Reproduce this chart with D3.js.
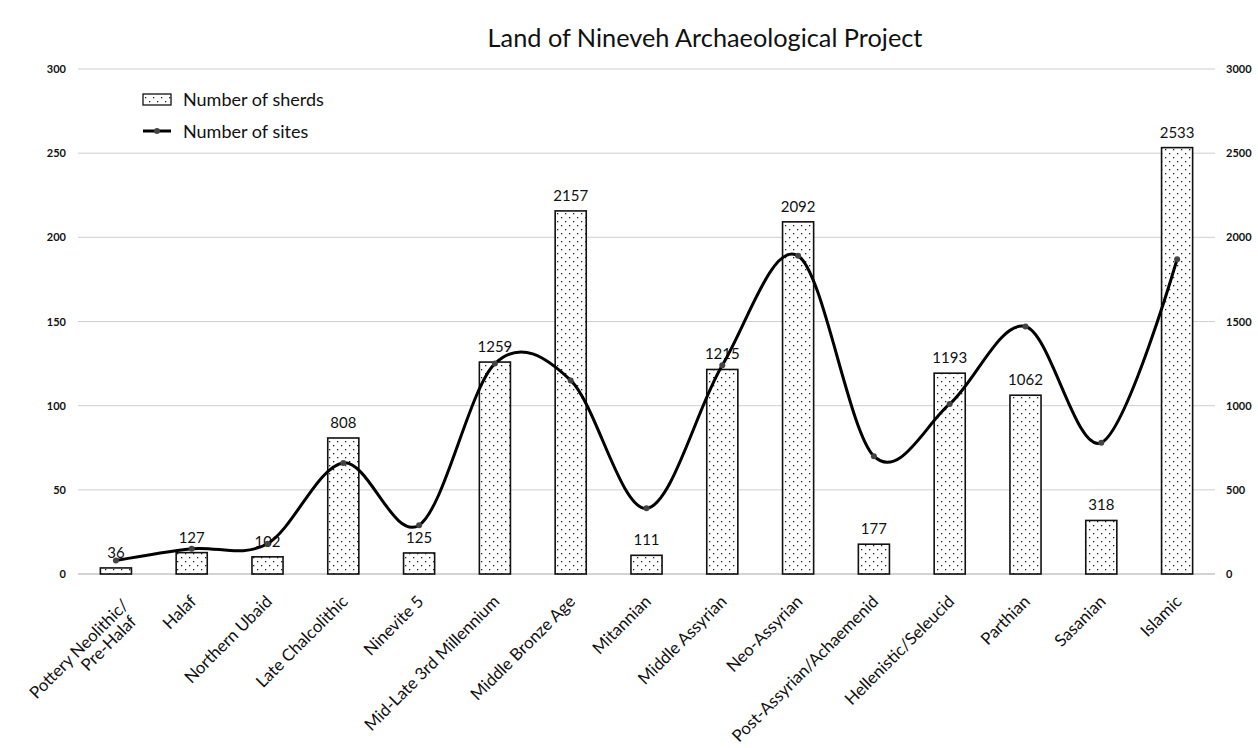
<!DOCTYPE html>
<html>
<head>
<meta charset="utf-8">
<script src="https://cdn.jsdelivr.net/npm/d3@7"></script>
<style>
  body { margin: 0; background: #fff; }
  svg { display: block; font-family: Lato, "Open Sans", sans-serif; }
  .grid-line { stroke: #cfcfcf; stroke-width: 1; }
  .tick-label { font-size: 11px; font-weight: bold; fill: #111; }
</style>
</head>
<body>
<svg width="1258" height="748"></svg>
<script>
// periods on the x axis
let periods = ["Pottery Neolithic/\nPre-Halaf", "Halaf", "Northern Ubaid", "Late Chalcolithic",
  "Ninevite 5", "Mid-Late 3rd Millennium", "Middle Bronze Age", "Mitannian", "Middle Assyrian",
  "Neo-Assyrian", "Post-Assyrian/Achaemenid", "Hellenistic/Seleucid", "Parthian", "Sasanian", "Islamic"];
// bars, right axis
let sherds = [36, 127, 102, 808, 125, 1259, 2157, 111, 1215, 2092, 177, 1193, 1062, 318, 2533];
// smoothed line, left axis
let sites = [8, 15, 18, 66, 29, 125, 115, 39, 124, 189, 70, 101, 147, 78, 187];
let leftTicks = [0, 50, 100, 150, 200, 250, 300];
let rightTicks = [0, 500, 1000, 1500, 2000, 2500, 3000];
let title = "Land of Nineveh Archaeological Project";

let plotLeft = 78, plotRight = 1215, plotTop = 69, plotBottom = 574;

let svg = d3.select("svg");

// dotted fill like the excel pattern
let pat = svg.append("defs").append("pattern")
  .attr("id", "dots")
  .attr("patternUnits", "userSpaceOnUse")
  .attr("width", 8).attr("height", 8);
pat.append("rect").attr("width", 8).attr("height", 8).attr("fill", "#fff");
pat.append("rect").attr("x", 1).attr("y", 1).attr("width", 1.3).attr("height", 1.3).attr("fill", "#222");
pat.append("rect").attr("x", 5).attr("y", 5).attr("width", 1.3).attr("height", 1.3).attr("fill", "#222");

let x = d3.scaleBand()
  .domain(periods)
  .range([plotLeft, plotRight])
  .paddingInner(0.59)
  .paddingOuter(0.295);
let yLeft = d3.scaleLinear().domain([0, 300]).range([plotBottom, plotTop]);
let yRight = d3.scaleLinear().domain([0, 3000]).range([plotBottom, plotTop]);

// grid
svg.append("g")
  .selectAll("line")
  .data(leftTicks)
  .enter().append("line")
  .classed("grid-line", true)
  .attr("x1", plotLeft).attr("x2", plotRight)
  .attr("y1", d => yLeft(d)).attr("y2", d => yLeft(d))
  .style("stroke", d => d === 0 ? "#a8a8a8" : null);

// left axis labels
svg.append("g")
  .attr("transform", `translate(${plotLeft}, 0)`)
  .call(d3.axisLeft(yLeft).tickValues(leftTicks).tickSize(0).tickPadding(12))
  .call(g => g.select(".domain").remove())
  .selectAll("text")
  .attr("class", "tick-label")
  .style("font-family", "Lato, sans-serif");

// right axis labels
svg.append("g")
  .attr("transform", `translate(${plotRight}, 0)`)
  .call(d3.axisRight(yRight).tickValues(rightTicks).tickFormat(d3.format("d")).tickSize(0).tickPadding(11))
  .call(g => g.select(".domain").remove())
  .selectAll("text")
  .attr("class", "tick-label")
  .style("font-family", "Lato, sans-serif");

// bars
svg.append("g")
  .selectAll("rect")
  .data(periods)
  .enter().append("rect")
  .attr("x", d => x(d))
  .attr("width", x.bandwidth())
  .attr("y", (d, i) => yRight(sherds[i]))
  .attr("height", (d, i) => plotBottom - yRight(sherds[i]))
  .attr("fill", "url(#dots)")
  .attr("stroke", "#111")
  .attr("stroke-width", 1.6);

// bar value labels
svg.append("g")
  .selectAll("text")
  .data(periods)
  .enter().append("text")
  .attr("x", d => x(d) + x.bandwidth() / 2)
  .attr("y", (d, i) => yRight(sherds[i]) - 10)
  .attr("text-anchor", "middle")
  .style("font-size", "15px")
  .style("fill", "#111")
  .text((d, i) => sherds[i]);

// smoothed line for sites
let line = d3.line()
  .x((d, i) => x(periods[i]) + x.bandwidth() / 2)
  .y(d => yLeft(d))
  .curve(d3.curveCardinal.tension(0));

svg.append("path")
  .datum(sites)
  .attr("d", line)
  .attr("fill", "none")
  .attr("stroke", "#000")
  .attr("stroke-width", 3);

svg.append("g")
  .selectAll("circle")
  .data(sites)
  .enter().append("circle")
  .attr("cx", (d, i) => x(periods[i]) + x.bandwidth() / 2)
  .attr("cy", d => yLeft(d))
  .attr("r", 3)
  .attr("fill", "#444");

// x labels rotated -45
let xl = svg.append("g")
  .selectAll("text")
  .data(periods)
  .enter().append("text")
  .attr("transform", d => `translate(${x(d) + x.bandwidth() / 2 + 1}, 598) rotate(-45)`)
  .attr("text-anchor", "end")
  .attr("dominant-baseline", "central")
  .style("font-size", "16.8px")
  .style("fill", "#111");

xl.each(function(d) {
  let parts = d.split("\n");
  let t = d3.select(this);
  if (parts.length === 1) {
    t.text(d);
  } else {
    t.append("tspan").attr("x", 3).attr("y", 8).text(parts[0]);
    t.append("tspan").attr("x", -3).attr("y", 25).text(parts[1]);
  }
});

// title
svg.append("text")
  .attr("x", 705)
  .attr("y", 47)
  .attr("text-anchor", "middle")
  .style("font-size", "25.3px")
  .style("fill", "#111")
  .text(title);

// legend
let lg = svg.append("g");
lg.append("rect")
  .attr("x", 143).attr("y", 94)
  .attr("width", 28).attr("height", 11)
  .attr("fill", "url(#dots)")
  .attr("stroke", "#111")
  .attr("stroke-width", 1.3);
lg.append("text")
  .attr("x", 183).attr("y", 99)
  .attr("dominant-baseline", "central")
  .style("font-size", "18px")
  .style("fill", "#111")
  .text("Number of sherds");
lg.append("line")
  .attr("x1", 143).attr("x2", 171)
  .attr("y1", 131).attr("y2", 131)
  .attr("stroke", "#000")
  .attr("stroke-width", 3);
lg.append("circle")
  .attr("cx", 157).attr("cy", 131)
  .attr("r", 3)
  .attr("fill", "#444");
lg.append("text")
  .attr("x", 183).attr("y", 131)
  .attr("dominant-baseline", "central")
  .style("font-size", "18px")
  .style("fill", "#111")
  .text("Number of sites");
</script>
</body>
</html>
